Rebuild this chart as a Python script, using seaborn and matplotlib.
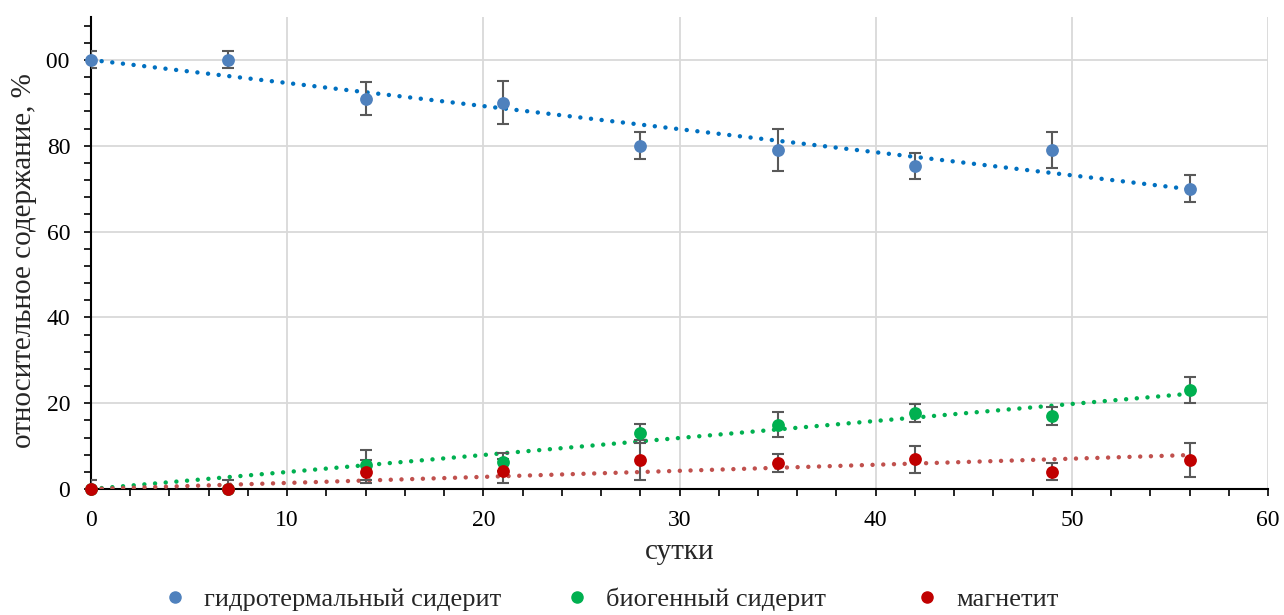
import numpy as np
import pandas as pd
import matplotlib
matplotlib.use("Agg")
import matplotlib.pyplot as plt
import seaborn as sns
from matplotlib.ticker import MultipleLocator
from matplotlib.lines import Line2D
from matplotlib.transforms import Bbox

# ---- data ----
days = [0, 7, 14, 21, 28, 35, 42, 49, 56]
hydro = [100, 100, 91, 90, 80, 79, 75.3, 79, 70]
hydro_err = [2, 2, 3.9, 5, 3.1, 4.9, 3, 4.1, 3.1]
bio = [0, 0, 5.5, 6.3, 13, 15, 17.7, 17, 23]
bio_err = [0, 0, 3.5, 2.1, 2.2, 2.9, 2, 2.1, 3]
magn = [0, 0, 4, 4.1, 6.8, 6.1, 6.9, 4, 6.8]
magn_err = [2, 2, 2.7, 2.8, 4.7, 2.1, 3.1, 2, 4]

labels = ["гидротермальный сидерит", "биогенный сидерит", "магнетит"]
point_colors = ["#4F81BD", "#00B050", "#C00000"]
trend_colors = ["#0070C0", "#00B050", "#C0504D"]
trend_intercepts = [100, 0, 0]

sns.set_theme(style="white")
plt.rcParams['font.family'] = ['Liberation Serif', 'DejaVu Serif']

fig = plt.figure(figsize=(12.84, 6.15), dpi=100)
ax = fig.add_axes([91/1284, 1-489/615, (1268-91)/1284, (489-17)/615])

series = [hydro, bio, magn]
errs = [hydro_err, bio_err, magn_err]
x = np.array(days, dtype=float)

for vals, tc, b0 in zip(series, trend_colors, trend_intercepts):
    y = np.array(vals, dtype=float)
    # trendline with fixed intercept (least squares)
    slope = np.sum(x * (y - b0)) / np.sum(x * x)
    xt = np.array([x.min(), x.max()])
    ax.plot(xt, b0 + slope * xt, color=tc, lw=3.2, linestyle=(0, (0.01, 2.4)),
            dash_capstyle='round', zorder=3)
for vals, err in zip(series, errs):
    ax.errorbar(days, vals, yerr=err, fmt='none', ecolor='#595959', elinewidth=1.5,
                capsize=4, capthick=1.5, zorder=4)
for vals, pc in zip(series, point_colors):
    df = pd.DataFrame({"x": days, "y": vals})
    sns.scatterplot(data=df, x="x", y="y", color=pc, s=85, edgecolor=pc, linewidth=0,
                    ax=ax, zorder=5, legend=False, clip_on=False)

ax.set_xlim(0, 60)
ax.set_ylim(0, 110)
ax.xaxis.set_major_locator(MultipleLocator(10))
ax.xaxis.set_minor_locator(MultipleLocator(2))
ax.yaxis.set_major_locator(MultipleLocator(20))
ax.yaxis.set_minor_locator(MultipleLocator(4))
ax.grid(True, which='major', color='#D9D9D9', lw=1.3)
ax.set_axisbelow(True)
for s in ['top', 'right']:
    ax.spines[s].set_visible(False)
for s in ['left', 'bottom']:
    ax.spines[s].set_color('black')
    ax.spines[s].set_linewidth(1.5)
ax.tick_params(axis='both', which='both', direction='out', length=5, width=1.2,
               color='black', labelsize=17, labelcolor='black')
ax.tick_params(axis='x', which='both', bottom=True, pad=10)
ax.tick_params(axis='y', which='both', left=True, pad=10)

ax.set_xlabel("сутки", fontsize=21, labelpad=6)
ax.set_ylabel("относительное содержание, %", fontsize=21)
ax.yaxis.set_label_coords(-0.0459, 0.483)

anchors_x = [0.1260, 0.4391, 0.7117]
for lab, c, ax_x in zip(labels, point_colors, anchors_x):
    h = Line2D([0], [0], marker='o', linestyle='none', markersize=8,
               markerfacecolor=c, markeredgecolor=c)
    fig.legend([h], [lab], loc='center left', bbox_to_anchor=(ax_x, 0.026),
               frameon=False, fontsize=19, handletextpad=0.6, borderpad=0,
               borderaxespad=0, handlelength=1.0)

fig.canvas.draw()
for t in ax.get_yticklabels():
    if t.get_text() == '100':
        t.set_clip_on(True)
        t.set_clip_box(Bbox.from_extents(46, 0, 1284, 615))

fig.savefig("out.png", dpi=100)
